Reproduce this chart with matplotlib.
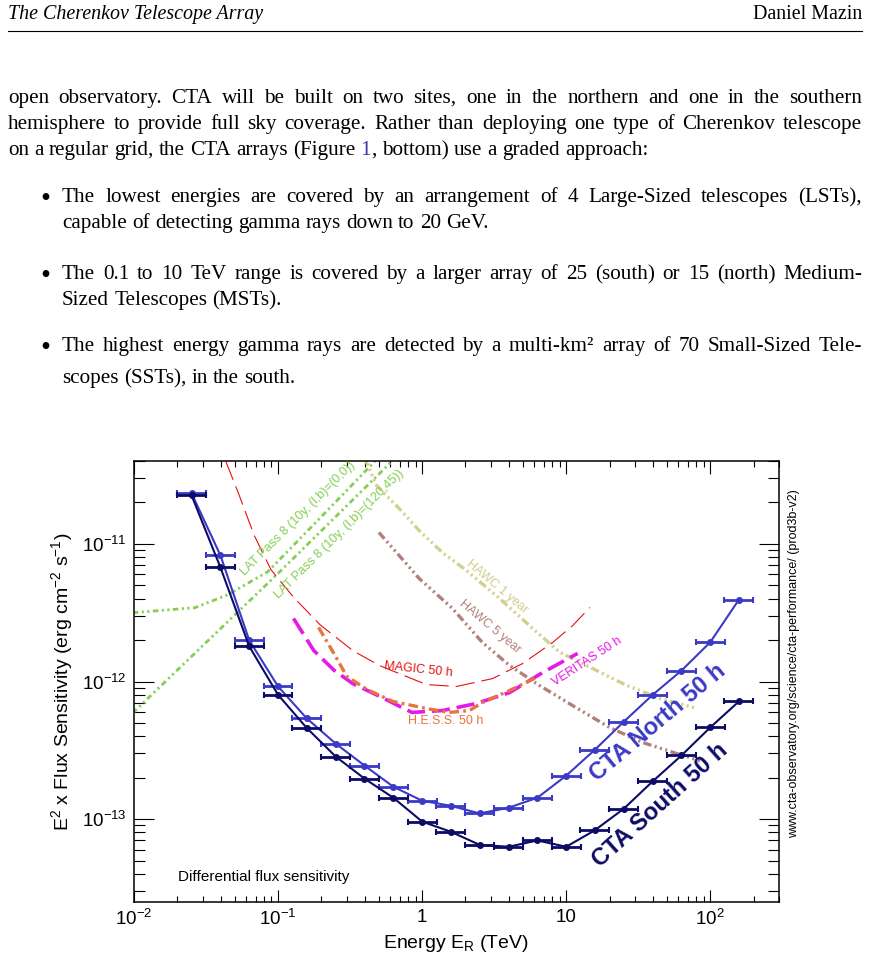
import matplotlib
matplotlib.use('Agg')
import matplotlib.pyplot as plt
import numpy as np
from matplotlib.ticker import NullFormatter

plt.rcParams['font.family'] = 'Liberation Sans'
plt.rcParams['mathtext.fontset'] = 'custom'
plt.rcParams['mathtext.rm'] = 'Liberation Sans'
plt.rcParams['mathtext.it'] = 'Liberation Sans:italic'
plt.rcParams['mathtext.bf'] = 'Liberation Sans:bold'
plt.rcParams['lines.scale_dashes'] = False

W, H = 871, 969

# ---- data ----
energy = [0.0251, 0.0398, 0.0631, 0.1, 0.158, 0.251, 0.398, 0.631, 1.0, 1.58,
          2.51, 3.98, 6.31, 10.0, 15.8, 25.1, 39.8, 63.1, 100.0, 158.0]
bin_half_dex = 0.1
cta_north = [2.33e-11, 8.25e-12, 1.99e-12, 9.2e-13, 5.4e-13, 3.54e-13, 2.45e-13, 1.72e-13,
             1.36e-13, 1.25e-13, 1.10e-13, 1.21e-13, 1.43e-13, 2.07e-13, 3.19e-13, 5.1e-13,
             8.0e-13, 1.2e-12, 1.93e-12, 3.93e-12]
cta_south = [2.25e-11, 6.75e-12, 1.8e-12, 8.0e-13, 4.6e-13, 2.85e-13, 1.97e-13, 1.43e-13,
             9.6e-14, 8.1e-14, 6.5e-14, 6.3e-14, 7.0e-14, 6.3e-14, 8.3e-14, 1.19e-13,
             1.88e-13, 2.9e-13, 4.64e-13, 7.16e-13]

lat00_e = [0.0098, 0.0265, 0.0449, 0.0847, 0.199, 0.472, 0.75]
lat00_f = [3.16e-12, 3.44e-12, 4.27e-12, 6.27e-12, 1.57e-11, 4.0e-11, 6.4e-11]
lat120_e = [0.0098, 0.012, 0.1, 0.62, 1.0]
lat120_f = [5.9e-13, 7.25e-13, 6.1e-12, 4.0e-11, 6.5e-11]

magic_e = [0.0435, 0.0536, 0.0681, 0.0893, 0.129, 0.196, 0.332, 0.511, 1.07, 1.73,
           3.08, 4.98, 8.05, 11.1, 14.6]
magic_f = [3.95e-11, 2.27e-11, 1.16e-11, 6.49e-12, 4.06e-12, 2.58e-12, 1.67e-12, 1.30e-12,
           9.5e-13, 9.2e-13, 1.05e-12, 1.35e-12, 1.92e-12, 2.55e-12, 3.45e-12]
veritas_e = [0.128, 0.177, 0.244, 0.33, 0.509, 0.851, 1.38, 2.38, 4.04, 6.85, 12.0]
veritas_f = [2.87e-12, 1.68e-12, 1.21e-12, 9.66e-13, 7.78e-13, 5.96e-13, 6.15e-13, 6.92e-13,
             8.3e-13, 1.16e-12, 1.60e-12]
hess_e = [0.191, 0.244, 0.30, 0.414, 0.628, 1.07, 1.54, 2.13, 2.62, 4.04, 6.22]
hess_f = [2.47e-12, 1.60e-12, 1.09e-12, 8.75e-13, 7.16e-13, 6.37e-13, 5.96e-13, 6.15e-13,
          7.03e-13, 8.6e-13, 1.07e-12]
hawc1_e = [0.40, 0.482, 0.692, 0.953, 1.38, 2.03, 3.44, 5.85, 9.02, 15.3, 26.4, 44.9, 81.1]
hawc1_f = [4.2e-11, 2.66e-11, 1.81e-11, 1.25e-11, 8.67e-12, 6.41e-12, 4.02e-12, 2.43e-12,
           1.63e-12, 1.24e-12, 9.35e-13, 7.52e-13, 6.37e-13]
hawc5_e = [0.501, 0.692, 0.953, 1.62, 2.62, 4.04, 6.53, 11.1, 20.1, 34.1, 58.9, 85.1]
hawc5_f = [1.21e-11, 8.24e-12, 5.61e-12, 3.40e-12, 1.92e-12, 1.31e-12, 9.35e-13, 6.68e-13,
           4.62e-13, 3.6e-13, 2.99e-13, 2.66e-13]

x_ticks = [0.01, 0.1, 1, 10, 100]
x_tick_labels = [r'$\mathregular{10^{-2}}$', r'$\mathregular{10^{-1}}$', '1', '10',
                 r'$\mathregular{10^{2}}$']
y_ticks = [1e-13, 1e-12, 1e-11]
y_tick_labels = [r'$\mathregular{10^{-13}}$', r'$\mathregular{10^{-12}}$',
                 r'$\mathregular{10^{-11}}$']


def fx(px):
    return px / W


def fy(py):
    return 1 - py / H


fig = plt.figure(figsize=(8.71, 9.69), dpi=100)
r = fig.canvas.get_renderer()

TXT = 15.2
SERIF = 'Liberation Serif'


def draw_line(words, x0, yb, x1=None, size=TXT, style='normal'):
    items = []
    for w in words:
        pieces = [(w, 'black')] if isinstance(w, str) else w
        ts = [fig.text(0, fy(yb), s, color=c, fontsize=size, family=SERIF,
                       style=style, va='baseline', ha='left') for s, c in pieces]
        items.append(ts)
    widths = [sum(t.get_window_extent(r).width for t in ts) for ts in items]
    if x1 is None or len(items) < 2:
        gap = 0.25 * size * 100 / 72
    else:
        gap = (x1 - x0 - sum(widths)) / (len(items) - 1)
    x = x0
    for ts, wd in zip(items, widths):
        xx = x
        for t in ts:
            t.set_x(fx(xx))
            xx += t.get_window_extent(r).width
        x += wd + gap


# ---- page header and body text ----
fig.text(fx(8), fy(19), 'The Cherenkov Telescope Array', family=SERIF, style='italic',
         fontsize=14.4, va='baseline', ha='left')
fig.text(fx(862), fy(19), 'Daniel Mazin', family=SERIF, fontsize=14.4,
         va='baseline', ha='right')
fig.add_artist(plt.Line2D([fx(8), fx(862)], [fy(31), fy(31)], color='black', lw=0.8))

L, R = 8, 862
draw_line('open observatory.  CTA will be built on two sites, one in the northern and one in the southern'.split(), L, 103, R)
draw_line('hemisphere to provide full sky coverage. Rather than deploying one type of Cherenkov telescope'.split(), L, 129, R)
draw_line(['on', 'a', 'regular', 'grid,', 'the', 'CTA', 'arrays', '(Figure',
           [('1', '#3535a8'), (',', 'black')], 'bottom)', 'use', 'a', 'graded', 'approach:'], L, 155)

BL, BX = 45, 62
bullets = [
    (['The lowest energies are covered by an arrangement of 4 Large-Sized telescopes (LSTs),',
      'capable of detecting gamma rays down to 20 GeV.'], [202, 228]),
    (['The 0.1 to 10 TeV range is covered by a larger array of 25 (south) or 15 (north) Medium-',
      'Sized Telescopes (MSTs).'], [279, 305]),
    (['The highest energy gamma rays are detected by a multi-km\u00b2 array of 70 Small-Sized Tele-',
      'scopes (SSTs), in the south.'], [351, 383]),
]
for lines, ys in bullets:
    fig.text(fx(BL), fy(ys[0] + 5), '\u2022', family=SERIF, fontsize=TXT * 1.35,
             va='baseline', ha='center')
    draw_line(lines[0].split(), BX, ys[0], R)
    draw_line(lines[1].split(), BX, ys[1])

# ---- chart ----
ax = fig.add_axes([fx(134), fy(902), (779 - 134) / W, (902 - 461) / H])
ax.set_xscale('log')
ax.set_yscale('log')

lat_ls = (0, (4, 2.5, 1.5, 2.5, 1.5, 2.5))
hawc_ls = (0, (6, 2.5, 1.5, 2.5, 1.5, 2.5, 1.5, 2.5))
ax.plot(lat00_e, lat00_f, color='#84cf52', lw=2.0, ls=lat_ls)
ax.plot(lat120_e, lat120_f, color='#84cf52', lw=2.0, ls=lat_ls)
ax.plot(magic_e, magic_f, color='#e61010', lw=0.8, ls=(0, (14, 5)))
ax.plot(hawc1_e, hawc1_f, color='#d2d08e', lw=2.4, ls=hawc_ls)
ax.plot(hawc5_e, hawc5_f, color='#b1807a', lw=2.4, ls=hawc_ls)
ax.plot(veritas_e, veritas_f, color='#e619e6', lw=2.6, ls=(0, (13, 5)))
ax.plot(hess_e, hess_f, color='#e8743e', lw=2.4, ls=(0, (7, 3, 2, 3)))

e = np.array(energy)
xerr = [e - e / 10 ** bin_half_dex, e * 10 ** bin_half_dex - e]
ax.errorbar(energy, cta_north, xerr=xerr, color='#3a3ac6', lw=1.5, elinewidth=2.0,
            marker='o', ms=4, capsize=2.2, capthick=1.5, zorder=5)
ax.errorbar(energy, cta_south, xerr=xerr, color='#0c0c66', lw=1.5, elinewidth=2.0,
            marker='o', ms=4, capsize=2.2, capthick=1.5, zorder=6)

ax.set_xlim(0.01, 300)
ax.set_ylim(2.5e-14, 4e-11)
ax.set_xticks(x_ticks)
ax.set_xticklabels(x_tick_labels)
ax.set_yticks(y_ticks)
ax.set_yticklabels(y_tick_labels)
ax.xaxis.set_minor_formatter(NullFormatter())
ax.yaxis.set_minor_formatter(NullFormatter())
ax.tick_params(which='both', direction='in', top=True, right=True, width=0.8,
               labelsize=13.5, color='black')
ax.tick_params(axis='x', which='major', length=9, pad=5)
ax.tick_params(axis='x', which='minor', length=4.5)
ax.tick_params(axis='y', which='major', length=14.5, pad=5)
ax.tick_params(axis='y', which='minor', length=8)
for s in ax.spines.values():
    s.set_linewidth(1.1)

fig.text(fx(456), fy(943), r'Energy $\mathregular{E_{R}}$ (TeV)', fontsize=14,
         ha='center', va='center')
fig.text(fx(62), fy(682), r'$\mathregular{E^{2}}$ x Flux Sensitivity (erg cm$\mathregular{^{-2}}$ s$\mathregular{^{-1}}$)',
         fontsize=14, rotation=90, ha='center', va='center')
fig.text(fx(794), fy(664), 'www.cta-observatory.org/science/cta-performance/ (prod3b-v2)',
         fontsize=9, rotation=90, ha='center', va='center')

labels = [
    ('LAT Pass 8 (10y, (l,b)=(0,0))', 298, 519, 45, '#84cf52', 9, 'normal'),
    ('LAT Pass 8 (10y, (l,b)=(120,45))', 339, 534, 45, '#84cf52', 9, 'normal'),
    ('HAWC 1 year', 497, 587, -40, '#cfcd8c', 9, 'normal'),
    ('HAWC 5 year', 490, 627, -40, '#b1807a', 9, 'normal'),
    ('MAGIC 50 h', 418, 670, -6, '#e61010', 9, 'normal'),
    ('VERITAS 50 h', 587, 662, 33, '#e619e6', 9, 'normal'),
    ('H.E.S.S. 50 h', 446, 721, 0, '#e8743e', 9, 'normal'),
    ('CTA North 50 h', 658, 723, 40, '#3a3ac6', 17, 'bold'),
    ('CTA South 50 h', 660, 805, 42, '#0c0c66', 17, 'bold'),
]
for txt, px, py, rot, col, fs, wt in labels:
    fig.text(fx(px), fy(py), txt, color=col, fontsize=fs, fontweight=wt, rotation=rot,
             rotation_mode='anchor', ha='center', va='center')

fig.text(fx(178), fy(877), 'Differential flux sensitivity', fontsize=11, ha='left', va='center')

fig.savefig('out.png', dpi=100)
